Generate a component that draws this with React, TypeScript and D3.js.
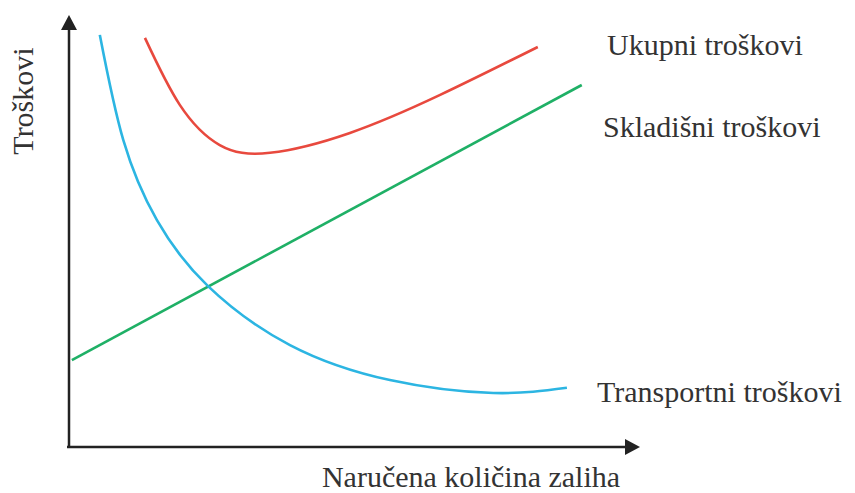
import React from "react";
import * as d3 from "d3";

// values (x: order quantity, y: cost, both 0..100)
const transportX = [5.4, 9.5, 15.4, 24.3, 38.7, 56.2, 74.3, 87.2];
const transportY = [95.4, 71.1, 52.5, 37.3, 23.6, 15.5, 12.5, 13.7];

const totalX = [13.3, 19.4, 26.4, 35.2, 49.2, 65.0, 82.1];
const totalY = [94.7, 79.2, 69.9, 68.1, 72.7, 81.5, 92.6];

const storageX = [0.5, 89.8];
const storageY = [20.1, 83.8];

const seriesLabels = ["Ukupni troškovi", "Skladišni troškovi", "Transportni troškovi"];
const xTitle = "Naručena količina zaliha";
const yTitle = "Troškovi";

const W = 855;
const H = 493;
const font = "'Liberation Serif', 'Times New Roman', serif";
const textColor = "#333";

const App = () => {
  const x = d3.scaleLinear([0, 100], [69, 640]);
  const y = d3.scaleLinear([0, 100], [447, 15]);

  const line = d3
    .line<[number, number]>()
    .x((d) => x(d[0]))
    .y((d) => y(d[1]))
    .curve(d3.curveNatural);

  const zip = (xs: number[], ys: number[]) => xs.map((v, i) => [v, ys[i]] as [number, number]);

  const series = [
    { pts: zip(totalX, totalY), color: "#e8493e" },
    { pts: zip(storageX, storageY), color: "#1fb066" },
    { pts: zip(transportX, transportY), color: "#2cb5e2" },
  ];

  const x0 = x(0);
  const y0 = y(0);

  return (
    <svg width={W} height={H} style={{ position: "absolute", left: 0, top: 0 }}>
      <rect width={W} height={H} fill="#fff" />
      {/* axes */}
      <line x1={x0} y1={y0 + 1} x2={x0} y2={y(100) + 12} stroke="#222" strokeWidth={2.5} />
      <path d={`M${x0 - 8},${y(100) + 15} L${x0},${y(100)} L${x0 + 8},${y(100) + 15} Z`} fill="#222" />
      <line x1={x0 - 2} y1={y0} x2={x(100) - 12} y2={y0} stroke="#222" strokeWidth={2.5} />
      <path d={`M${x(100) - 15},${y0 - 8} L${x(100)},${y0} L${x(100) - 15},${y0 + 8} Z`} fill="#222" />

      {series.map((s, i) => (
        <path key={i} d={line(s.pts) || ""} fill="none" stroke={s.color} strokeWidth={2.6} />
      ))}

      <g fontFamily={font} fontSize={30} fill={textColor}>
        <text x={607} y={55}>{seriesLabels[0]}</text>
        <text x={603} y={137}>{seriesLabels[1]}</text>
        <text x={597} y={402}>{seriesLabels[2]}</text>
        <text x={471} y={487} textAnchor="middle">{xTitle}</text>
        <text transform="translate(33,101) rotate(-90)" textAnchor="middle">{yTitle}</text>
      </g>
    </svg>
  );
};

export default App;
